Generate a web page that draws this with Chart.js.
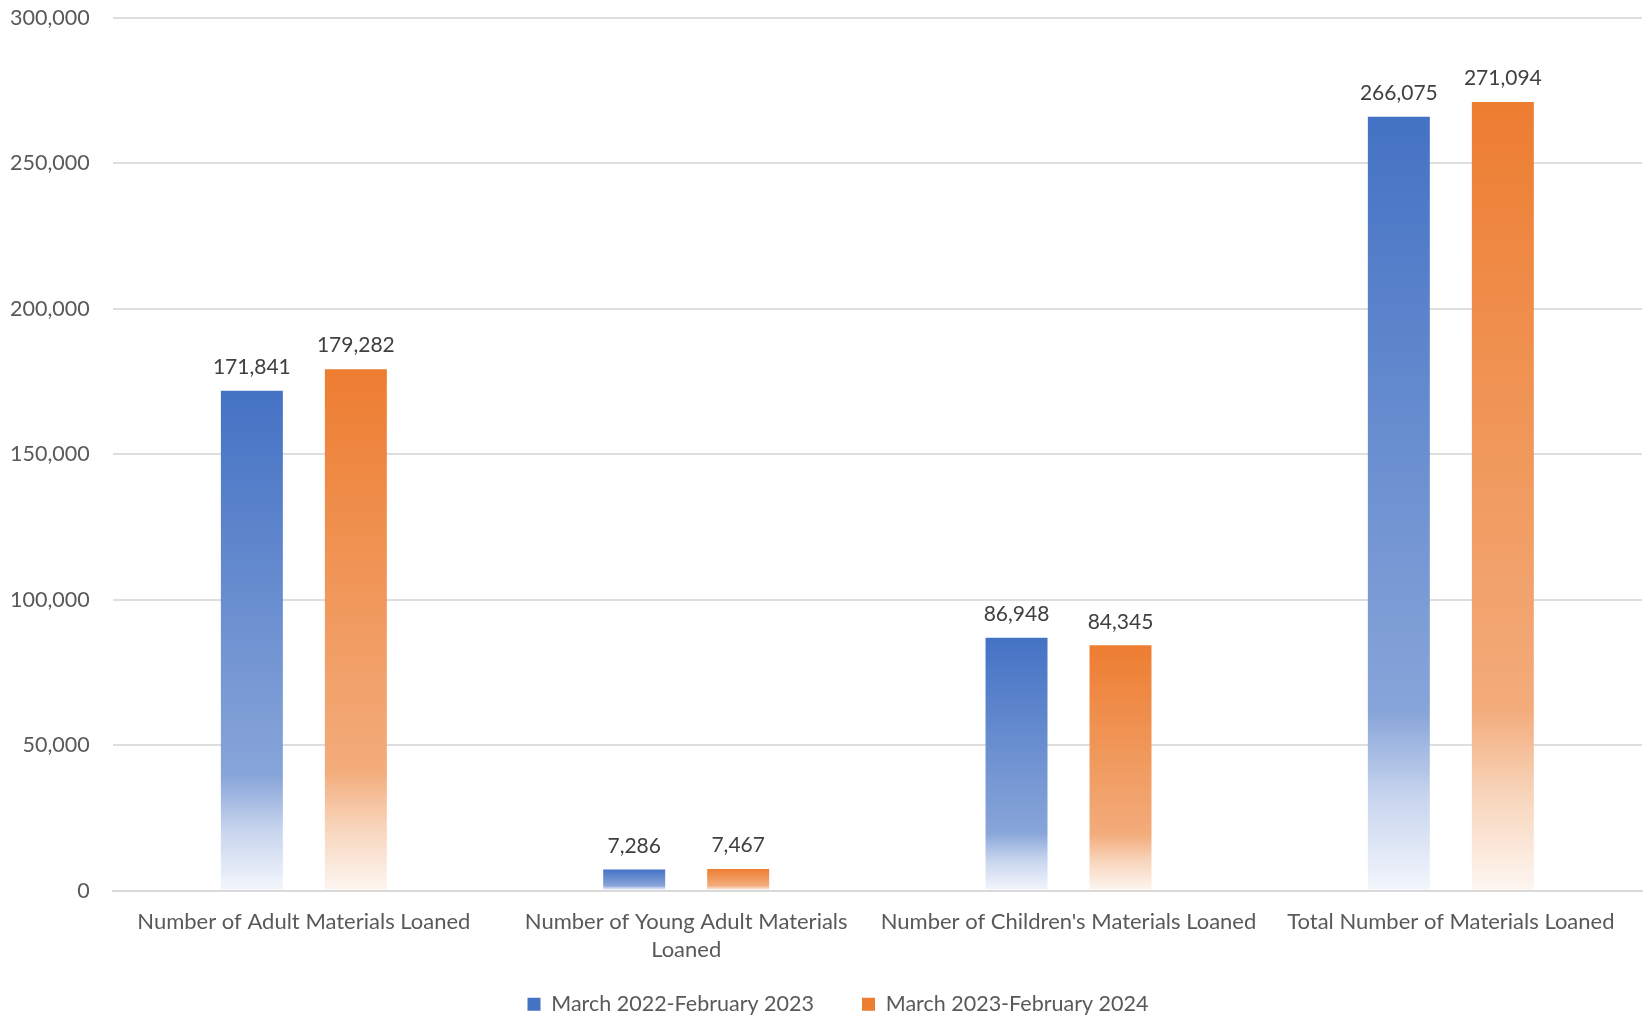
<!DOCTYPE html>
<html>
<head>
<meta charset="utf-8">
<title>Materials Loaned</title>
<script src="https://cdn.jsdelivr.net/npm/chart.js@4.4.1/dist/chart.umd.min.js"></script>
<style>
  html, body { margin: 0; padding: 0; background: #fff; }
  #wrap { width: 1650px; height: 1020px; position: relative; }
</style>
</head>
<body>
<div id="wrap"><canvas id="loansChart"></canvas></div>
<script>
const categories = [
  "Number of Adult Materials Loaned",
  ["Number of Young Adult Materials", "Loaned"],
  "Number of Children's Materials Loaned",
  "Total Number of Materials Loaned",
];
const seriesNames = ["March 2022-February 2023", "March 2023-February 2024"];
const loans2022 = [171841, 7286, 86948, 266075];
const loans2023 = [179282, 7467, 84345, 271094];
const yTicks = [0, 50000, 100000, 150000, 200000, 250000, 300000];

const FONT = "Lato, 'Open Sans', sans-serif";

const blueStops = [[0, "#4472C4"], [0.77, "#88A5D9"], [0.88, "#C8D5EE"], [1, "#F3F6FC"]];
const orangeStops = [[0, "#ED7D31"], [0.77, "#F3AC7B"], [0.88, "#F8D5BC"], [1, "#FDF6F1"]];

function gradient(chart, top, bottom, stops) {
  const g = chart.ctx.createLinearGradient(0, top, 0, bottom);
  stops.forEach(([at, c]) => g.addColorStop(at, c));
  return g;
}

// vertical fade per bar: solid at the top, washing out near the baseline
function barFill(stops) {
  return (ctx) => {
    const chart = ctx.chart;
    if (!chart.chartArea || ctx.type !== "data") return stops[0][1];
    const y = chart.scales.y;
    return gradient(chart, y.getPixelForValue(ctx.raw), y.getPixelForValue(0), stops);
  };
}

// value labels above each bar
const valueLabels = {
  id: "valueLabels",
  afterDatasetsDraw(chart) {
    const c = chart.ctx;
    c.save();
    c.font = "21px " + FONT;
    c.fillStyle = "#404040";
    c.textAlign = "center";
    c.textBaseline = "bottom";
    chart.data.datasets.forEach((ds, i) => {
      chart.getDatasetMeta(i).data.forEach((bar, j) => {
        c.fillText(ds.data[j].toLocaleString("en-US"), bar.x, bar.y - 13);
      });
    });
    c.restore();
  },
};

// the x labels hang into the legend's top gap, so open up their clip box;
// the legend is centred a little right of the plot and its swatches fade too
const bottomLayout = {
  id: "bottomLayout",
  afterLayout(chart) {
    chart.scales.x.bottom += 27;
    const legend = chart.legend;
    legend.left += 12;
    legend.right += 12;
    const lab = legend.options.labels;
    const boxTop = legend.top + lab.padding + (lab.font.size - lab.boxHeight) / 2;
    legend.legendItems.forEach((item, i) => {
      const stops = i === 0 ? blueStops : orangeStops;
      item.fillStyle = gradient(chart, boxTop, boxTop + lab.boxHeight * 1.25, stops);
    });
  },
};

new Chart(document.getElementById("loansChart"), {
  type: "bar",
  data: {
    labels: categories,
    datasets: [
      { label: seriesNames[0], data: loans2022, backgroundColor: barFill(blueStops), legendColor: "#4472C4" },
      { label: seriesNames[1], data: loans2023, backgroundColor: barFill(orangeStops), legendColor: "#ED7D31" },
    ],
  },
  options: {
    responsive: true,
    maintainAspectRatio: false,
    animation: false,
    categoryPercentage: 0.544,
    barPercentage: 0.596,
    layout: { padding: { top: 18, right: 8, left: 10, bottom: -5 } },
    plugins: {
      tooltip: { enabled: false },
      legend: {
        position: "bottom",
        labels: {
          font: { family: FONT, size: 21.5 },
          color: "#595959",
          boxWidth: 13,
          boxHeight: 13,
          padding: 48,
          generateLabels(chart) {
            return chart.data.datasets.map((ds, i) => ({
              text: ds.label,
              fillStyle: ds.legendColor,
              strokeStyle: "rgba(0,0,0,0)",
              lineWidth: 0,
              fontColor: "#595959",
              datasetIndex: i,
              hidden: false,
            }));
          },
        },
      },
    },
    scales: {
      x: {
        grid: { display: false },
        border: { display: true, color: "#D9D9D9", width: 2 },
        ticks: {
          font: { family: FONT, size: 22, lineHeight: 1.27 },
          color: "#595959",
          maxRotation: 0,
          autoSkip: false,
          padding: 9,
        },
        afterFit(scale) {
          scale.height -= 27;
        },
      },
      y: {
        min: 0,
        max: 300000,
        afterBuildTicks(axis) {
          axis.ticks = yTicks.map((v) => ({ value: v }));
        },
        // invisible tick marks give the gap between labels and gridlines
        grid: { color: "#DEDEDE", lineWidth: 2, tickLength: 23, tickColor: "rgba(0,0,0,0)" },
        border: { display: false },
        ticks: {
          font: { family: FONT, size: 21.5 },
          color: "#595959",
          padding: 0,
          callback: (v) => v.toLocaleString("en-US"),
        },
      },
    },
  },
  plugins: [valueLabels, bottomLayout],
});
</script>
</body>
</html>
